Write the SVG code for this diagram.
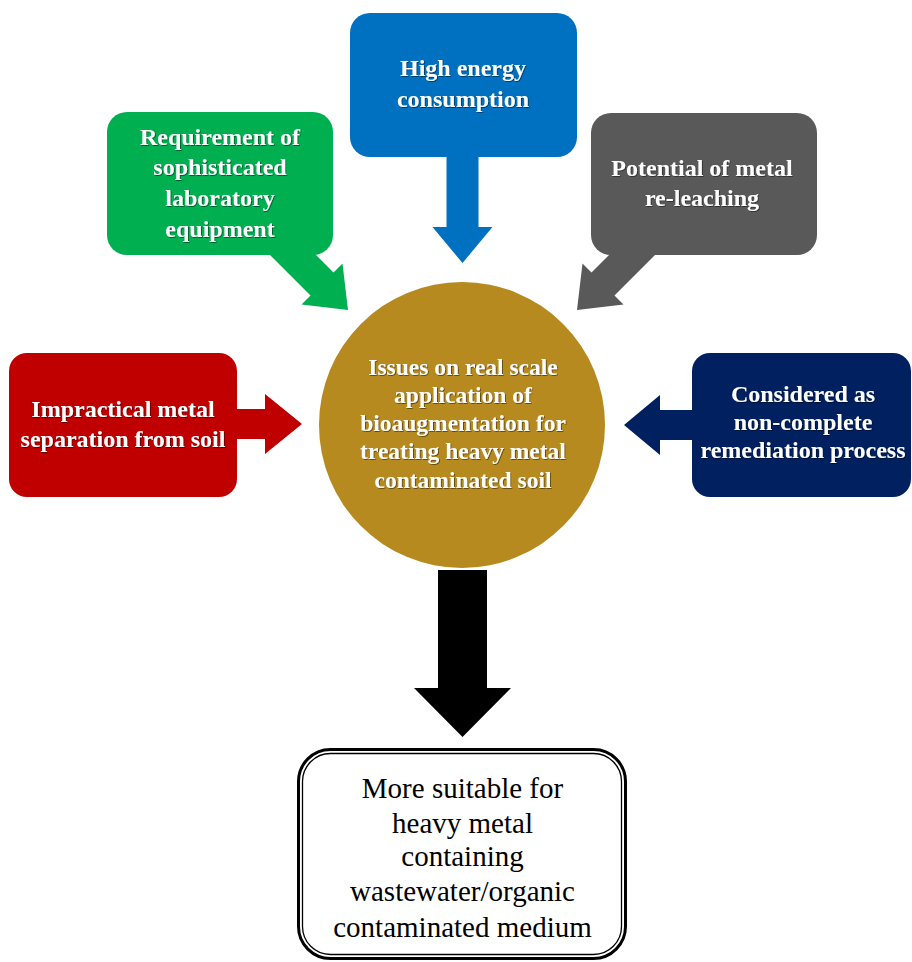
<svg xmlns="http://www.w3.org/2000/svg" width="912" height="962" viewBox="0 0 912 962">
  <defs>
    <filter id="txtShadow" x="-5%" y="-20%" width="110%" height="140%">
      <feDropShadow dx="0.8" dy="0.8" stdDeviation="0.6" flood-color="#000" flood-opacity="0.55"/>
    </filter>
  </defs>
  <style>
    .lbl { font-family: "Liberation Serif", "Times New Roman", serif; font-weight: bold; font-size: 24px; fill: #ffffff; text-anchor: middle; filter: url(#txtShadow); }
    .hub { font-size: 23.5px; }
    .out { font-family: "Liberation Serif", "Times New Roman", serif; font-size: 29px; fill: #000000; text-anchor: middle; }
    .green { fill: #00B050; }
    .blue { fill: #0070C0; }
    .grey { fill: #595959; }
    .red { fill: #C00000; }
    .navy { fill: #002060; }
    .gold { fill: #B68A1E; }
  </style>

  <rect width="912" height="962" fill="#ffffff"/>

  <!-- arrows leading into the hub and out to the conclusion -->
  <g id="connectors">
    <polygon class="green" points="265,250 310.5,295.5 301.5,304.5 348,310 342.5,263.5 333.5,272.5 311,250"/>
    <polygon class="blue" points="446.5,150 446.5,227 432.5,227 462.5,263 492.5,227 478.5,227 478.5,150"/>
    <polygon class="grey" points="660,250 614.5,295.5 623.5,304.5 577,310 582.5,263.5 591.5,272.5 614,250"/>
    <polygon class="red" points="230,409 265,409 265,394 302,424 265,454 265,439 230,439"/>
    <polygon class="navy" points="700,410 660,410 660,395 624,425 660,455 660,440 700,440"/>
    <polygon fill="#000000" points="438,570 487,570 487,688 511,688 462.5,737 414,688 438,688"/>
  </g>

  <g id="node-equipment">
    <rect class="green" x="107" y="112" width="226" height="143" rx="20"/>
    <text class="lbl" x="220" y="145">Requirement of</text>
    <text class="lbl" x="220" y="175">sophisticated</text>
    <text class="lbl" x="220" y="206">laboratory</text>
    <text class="lbl" x="220" y="237">equipment</text>
  </g>

  <g id="node-energy">
    <rect class="blue" x="350" y="13" width="227" height="144" rx="20"/>
    <text class="lbl" x="463" y="76">High energy</text>
    <text class="lbl" x="463" y="107">consumption</text>
  </g>

  <g id="node-releaching">
    <rect class="grey" x="591" y="113" width="226" height="142" rx="20"/>
    <text class="lbl" x="702" y="176">Potential of metal</text>
    <text class="lbl" x="702" y="206">re-leaching</text>
  </g>

  <g id="node-separation">
    <rect class="red" x="9" y="353" width="228" height="144" rx="18"/>
    <text class="lbl" x="123" y="417">Impractical metal</text>
    <text class="lbl" x="123" y="447">separation from soil</text>
  </g>

  <g id="node-noncomplete">
    <rect class="navy" x="692" y="353" width="219" height="144" rx="18"/>
    <text class="lbl" x="803" y="402">Considered as</text>
    <text class="lbl" x="803" y="430">non-complete</text>
    <text class="lbl" x="803" y="458">remediation process</text>
  </g>

  <g id="node-issues">
    <circle class="gold" cx="462" cy="425" r="143"/>
    <text class="lbl hub" x="463" y="375">Issues on real scale</text>
    <text class="lbl hub" x="463" y="403">application of</text>
    <text class="lbl hub" x="463" y="431">bioaugmentation for</text>
    <text class="lbl hub" x="463" y="459">treating heavy metal</text>
    <text class="lbl hub" x="463" y="488">contaminated soil</text>
  </g>

  <g id="node-suitable">
    <rect x="298.5" y="749.5" width="327" height="209" rx="32" fill="#ffffff" stroke="#000000" stroke-width="3"/>
    <rect x="302.5" y="753.5" width="319" height="201" rx="28" fill="none" stroke="#000000" stroke-width="1.3"/>
    <text class="out" x="462.5" y="798">More suitable for</text>
    <text class="out" x="462.5" y="833">heavy metal</text>
    <text class="out" x="462.5" y="866">containing</text>
    <text class="out" x="462.5" y="901">wastewater/organic</text>
    <text class="out" x="462.5" y="937">contaminated medium</text>
  </g>
</svg>
